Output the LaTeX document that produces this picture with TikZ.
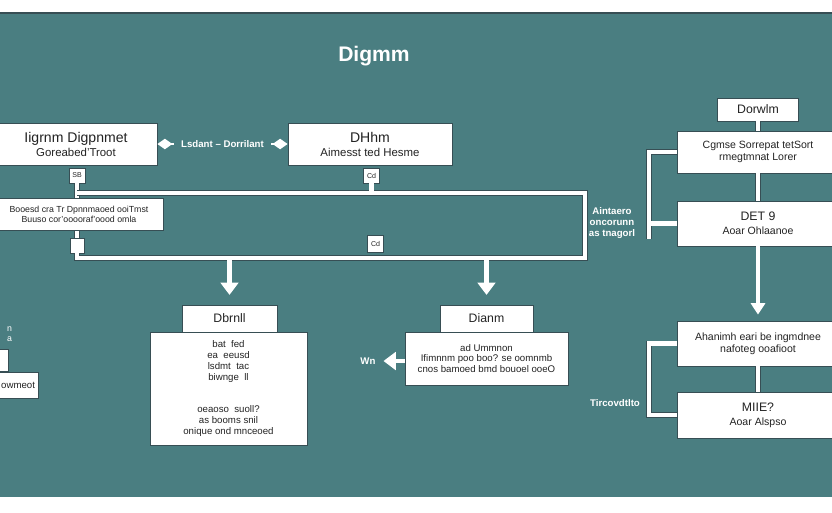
\documentclass[tikz,border=0pt]{standalone}
\usepackage{fontspec}
\setmainfont{Liberation Sans}
\usetikzlibrary{arrows.meta,positioning}
\definecolor{bgteal}{RGB}{74,126,129}
\definecolor{boxline}{RGB}{55,78,84}
\definecolor{boxtext}{RGB}{35,35,35}
\tikzset{
  box/.style={draw=boxline, fill=white, line width=0.5pt, inner sep=0pt, align=center, text=boxtext},
  tag/.style={box, minimum width=0.32cm, minimum height=0.3cm, font=\fontsize{4}{4}\selectfont},
  wire/.style={draw=boxline, double=white, double distance=2.6pt, line width=0.4pt},
  flow/.style={white, line width=3pt, -{Triangle[width=10pt,length=7pt]}},
  lbl/.style={text=white, align=center, font=\fontsize{5.5}{6.5}\selectfont\bfseries},
}
\begin{document}
\begin{tikzpicture}[x=0.02cm, y=-0.02cm]
\useasboundingbox (0,0) rectangle (832,512);
% Background
\fill[white] (0,0) rectangle (832,512);
\fill[bgteal] (0,13) rectangle (832,497);
\draw[boxline, line width=0.8pt] (0,13) -- (832,13);
\node[text=white, font=\fontsize{12}{14}\selectfont\bfseries] (title) at (374,56) {Digmm};

% Top row
\node[box, minimum width=3.24cm, minimum height=0.84cm, font=\fontsize{6.5}{8}\selectfont] (idiag) at (76,144) {{\fontsize{8}{9}\selectfont Iigrnm Digpnmet}\\Goreabed'Troot};
\node[box, minimum width=3.28cm, minimum height=0.84cm, font=\fontsize{6.5}{8}\selectfont] (dhhm) at (370,144) {{\fontsize{8}{9}\selectfont DHhm}\\Aimesst ted Hesme};
\draw[white, line width=0.8pt, {Diamond[width=6pt,length=8.5pt]}-{Diamond[width=6pt,length=8.5pt]}] (idiag) -- (dhhm) node[midway, lbl, fill=bgteal, inner xsep=4pt, inner ysep=1pt] {Lsdant -- Dorrilant};
\node[tag] (tagsb) at (77,175.5) {SB};
\node[tag] (tagcd) at (371.5,175.5) {Cd};
\node[box, minimum width=0.28cm, minimum height=0.3cm] (sq) at (77,245.5) {};
\node[tag, minimum height=0.34cm] (tagin) at (375.5,243.5) {Cd};

% Frame of connectors
\coordinate (rtop) at (585,193);
\coordinate (rbot) at (585,258);
\draw[wire] (tagsb) -- (sq);
\draw[wire] (tagsb |- rtop) -- (rtop) -- (rbot) -- (sq |- rbot) -- (sq);
\draw[wire] (tagcd) -- (tagcd |- rtop);
\node[box, minimum width=3.36cm, minimum height=0.64cm, font=\fontsize{5}{5.7}\selectfont] (booesd) at (79,214) {Booesd cra Tr Dpnnmaoed ooiTmst\\Buuso cor'ooooraf'oood omla};

% Lower middle
\node[box, minimum width=3.14cm, minimum height=2.26cm, font=\fontsize{5.5}{6.2}\selectfont] (dbody) at (228.5,388.5) {bat\ \ fed\\ea\ \ eeusd\\lsdmt\ \ tac\\biwnge\ \ ll\\[12pt]oeaoso\ \ suoll?\\as booms snil\\onique ond mnceoed};
\node[box, minimum width=1.9cm, minimum height=0.54cm, font=\fontsize{7}{8}\selectfont] (dbrnll) at (229.5,318.5) {Dbrnll};
\node[box, minimum width=3.26cm, minimum height=1.06cm, font=\fontsize{5.5}{6.2}\selectfont] (ebody) at (486.5,358.5) {ad Ummnon\\Ifimnnm poo boo? se oomnmb\\cnos bamoed bmd bouoel ooeO};
\node[box, minimum width=1.86cm, minimum height=0.54cm, font=\fontsize{7}{8}\selectfont] (dianm) at (486.5,318.5) {Dianm};
\node[lbl] (wn) at (368,361) {Wn};
\draw[flow, shorten >=5.5pt] (rbot -| dbrnll) -- (dbrnll.north);
\draw[flow, shorten >=5.5pt] (rbot -| dianm) -- (dianm.north);
\draw[flow, line width=2.5pt, shorten >=1pt] (ebody.west |- wn) -- (wn.east);

% Right column
\node[box, minimum width=1.62cm, minimum height=0.46cm, font=\fontsize{7}{8}\selectfont] (dorwlm) at (758,109.5) {Dorwlm};
\node[box, minimum width=3.22cm, minimum height=0.84cm, font=\fontsize{6}{6.8}\selectfont] (cgmse) at (758,152) {Cgmse Sorrepat tetSort\\rmegtmnat Lorer};
\node[box, minimum width=3.22cm, minimum height=0.9cm, font=\fontsize{6}{8}\selectfont] (det) at (758,223.5) {{\fontsize{7}{8}\selectfont DET 9}\\Aoar Ohlaanoe};
\node[box, minimum width=3.22cm, minimum height=0.9cm, font=\fontsize{6}{6.8}\selectfont] (ahan) at (758,343.5) {Ahanimh eari be ingmdnee\\nafoteg ooafioot};
\node[box, minimum width=3.22cm, minimum height=0.92cm, font=\fontsize{6}{8}\selectfont] (miie) at (758,415) {{\fontsize{7}{8}\selectfont MIIE?}\\Aoar Alspso};
\draw[wire] (dorwlm) -- (cgmse);
\draw[wire] (cgmse) -- (det);
\draw[flow, line width=2.2pt, -{Triangle[width=8pt,length=6.5pt]}, shorten >=3.4pt] (det) -- (ahan);
\draw[wire] (ahan) -- (miie);
\draw[wire] (cgmse.west) -- ++(-28,0) -- ++(0,87);
\draw[wire] (det.west) -- ++(-28,0);
\draw[wire] (ahan.west) -- ++(-28,0) |- (miie.west);
\node[lbl] (aintaero) at (612,223) {Aintaero\\oncorunn\\as tnagorl};
\node[lbl] (tirc) at (615,403) {Tircovdtlto};

% Left edge
\node[box, minimum width=0.96cm, minimum height=0.44cm] (edgebox) at (-16,360) {};
\node[box, minimum width=1.2cm, minimum height=0.52cm, text width=1.08cm, align=right, font=\fontsize{5.5}{6.5}\selectfont] (oowm) at (8,385) {owmeot};
\node[lbl, font=\fontsize{5}{6}\selectfont, anchor=west, align=left] (edgelbl) at (1,334) {n\\a};
\end{tikzpicture}
\end{document}
